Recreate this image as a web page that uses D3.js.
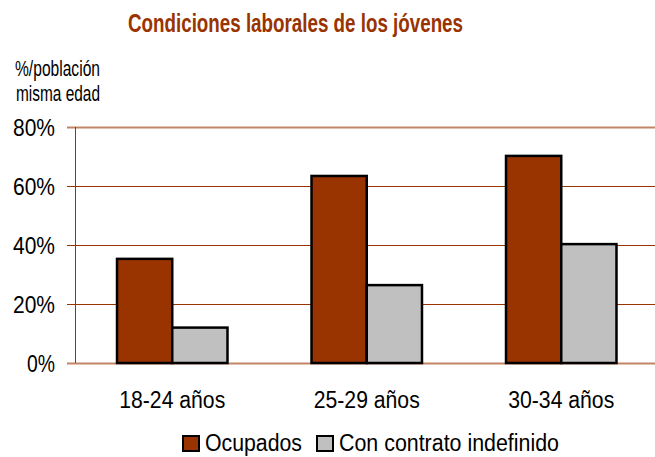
<!DOCTYPE html>
<html>
<head>
<meta charset="utf-8">
<script src="https://cdn.jsdelivr.net/npm/d3@7"></script>
<style>
  body { margin: 0; background: #fff; }
  text { font-family: "Liberation Sans Narrow", "Arial Narrow", "Liberation Sans", Arial, sans-serif; }
</style>
</head>
<body>
<script>
// data
var categories = ["18-24 años", "25-29 años", "30-34 años"];
var seriesNames = ["Ocupados", "Con contrato indefinido"];
var ocupados = [35.3, 63.4, 70.2];
var indefinido = [12.0, 26.4, 40.3];
var yTicks = [0, 20, 40, 60, 80];

var colors = ["#993300", "#c0c0c0"];
var brown = "#993300";

var width = 655, height = 457;
var plot = {left: 75, right: 658.5, top: 127, bottom: 363};

// squeeze text to a narrow look (no narrow font installed)
function narrow(sel, len) {
  sel.attr("textLength", len).attr("lengthAdjust", "spacingAndGlyphs");
}

var svg = d3.select("body").append("svg")
    .attr("width", width)
    .attr("height", height);

svg.append("rect")
    .attr("width", width)
    .attr("height", height)
    .attr("fill", "#ffffff");

// scales
var x0 = d3.scaleBand()
    .domain(categories)
    .range([plot.left, plot.right])
    .paddingInner(0.432)
    .paddingOuter(0.216);
var x1 = d3.scaleBand()
    .domain(seriesNames)
    .range([0, x0.bandwidth()]);
var y = d3.scaleLinear()
    .domain([0, 80])
    .range([plot.bottom, plot.top]);

// gridlines
svg.append("g")
  .selectAll("line")
  .data(yTicks)
  .enter().append("line")
    .attr("x1", plot.left - 8)
    .attr("x2", width)
    .attr("y1", function(d) { return Math.round(y(d)) + 0.5; })
    .attr("y2", function(d) { return Math.round(y(d)) + 0.5; })
    .attr("stroke", brown)
    .attr("stroke-opacity", function(d) { return (d === 0 || d === 80) ? 0.6 : 1; })
    .attr("stroke-width", function(d) { return (d === 0 || d === 80) ? 2 : 1; });

// y axis line
svg.append("line")
    .attr("x1", plot.left + 0.5).attr("x2", plot.left + 0.5)
    .attr("y1", plot.top).attr("y2", plot.bottom)
    .attr("stroke", brown)
    .attr("stroke-width", 1);

// y tick labels
svg.append("g")
  .selectAll("text")
  .data(yTicks)
  .enter().append("text")
    .attr("x", 55)
    .attr("y", function(d) { return y(d); })
    .attr("dy", "0.36em")
    .attr("text-anchor", "end")
    .attr("font-size", "24px")
    .attr("fill", "#000")
    .text(function(d) { return d + "%"; })
    .each(function(d) { narrow(d3.select(this), d === 0 ? 28 : 42); });

// bars
var data = categories.map(function(c, i) {
  return {cat: c, values: [ocupados[i], indefinido[i]]};
});

var groups = svg.append("g")
  .selectAll("g")
  .data(data)
  .enter().append("g")
    .attr("transform", function(d) { return "translate(" + x0(d.cat) + ",0)"; });

groups.selectAll("rect")
  .data(function(d) { return d.values.map(function(v, j) { return {name: seriesNames[j], v: v, j: j}; }); })
  .enter().append("rect")
    .attr("x", function(d) { return x1(d.name); })
    .attr("y", function(d) { return y(d.v); })
    .attr("width", x1.bandwidth())
    .attr("height", function(d) { return y(0) - y(d.v); })
    .attr("fill", function(d) { return colors[d.j]; })
    .attr("stroke", "#000")
    .attr("stroke-width", 2.5);

// category labels
svg.append("g")
  .selectAll("text")
  .data(categories)
  .enter().append("text")
    .attr("x", function(d) { return x0(d) + x0.bandwidth() / 2; })
    .attr("y", 408)
    .attr("text-anchor", "middle")
    .attr("font-size", "23px")
    .attr("fill", "#000")
    .text(function(d) { return d; })
    .call(narrow, 106);

// title
svg.append("text")
    .attr("x", 295.5)
    .attr("y", 32)
    .attr("text-anchor", "middle")
    .attr("font-size", "26px")
    .attr("font-weight", "bold")
    .attr("fill", brown)
    .text("Condiciones laborales de los jóvenes")
    .call(narrow, 335);

// y axis title
svg.append("text")
    .attr("x", 15)
    .attr("y", 76)
    .attr("font-size", "22px")
    .attr("fill", "#000")
    .text("%/población")
    .call(narrow, 85);
svg.append("text")
    .attr("x", 16)
    .attr("y", 101)
    .attr("font-size", "22px")
    .attr("fill", "#000")
    .text("misma edad")
    .call(narrow, 84);

// legend
var legendX = [182, 316];
var legendLen = [97, 220];
var legend = svg.append("g")
  .selectAll("g")
  .data(seriesNames)
  .enter().append("g")
    .attr("transform", function(d, i) { return "translate(" + legendX[i] + ",435)"; });

legend.append("rect")
    .attr("x", 1)
    .attr("y", 1)
    .attr("width", 16)
    .attr("height", 15)
    .attr("fill", function(d, i) { return colors[i]; })
    .attr("stroke", "#000")
    .attr("stroke-width", 2);

legend.append("text")
    .attr("x", 23)
    .attr("y", 16)
    .attr("font-size", "23px")
    .attr("fill", "#000")
    .text(function(d) { return d; })
    .each(function(d, i) { narrow(d3.select(this), legendLen[i]); });
</script>
</body>
</html>
